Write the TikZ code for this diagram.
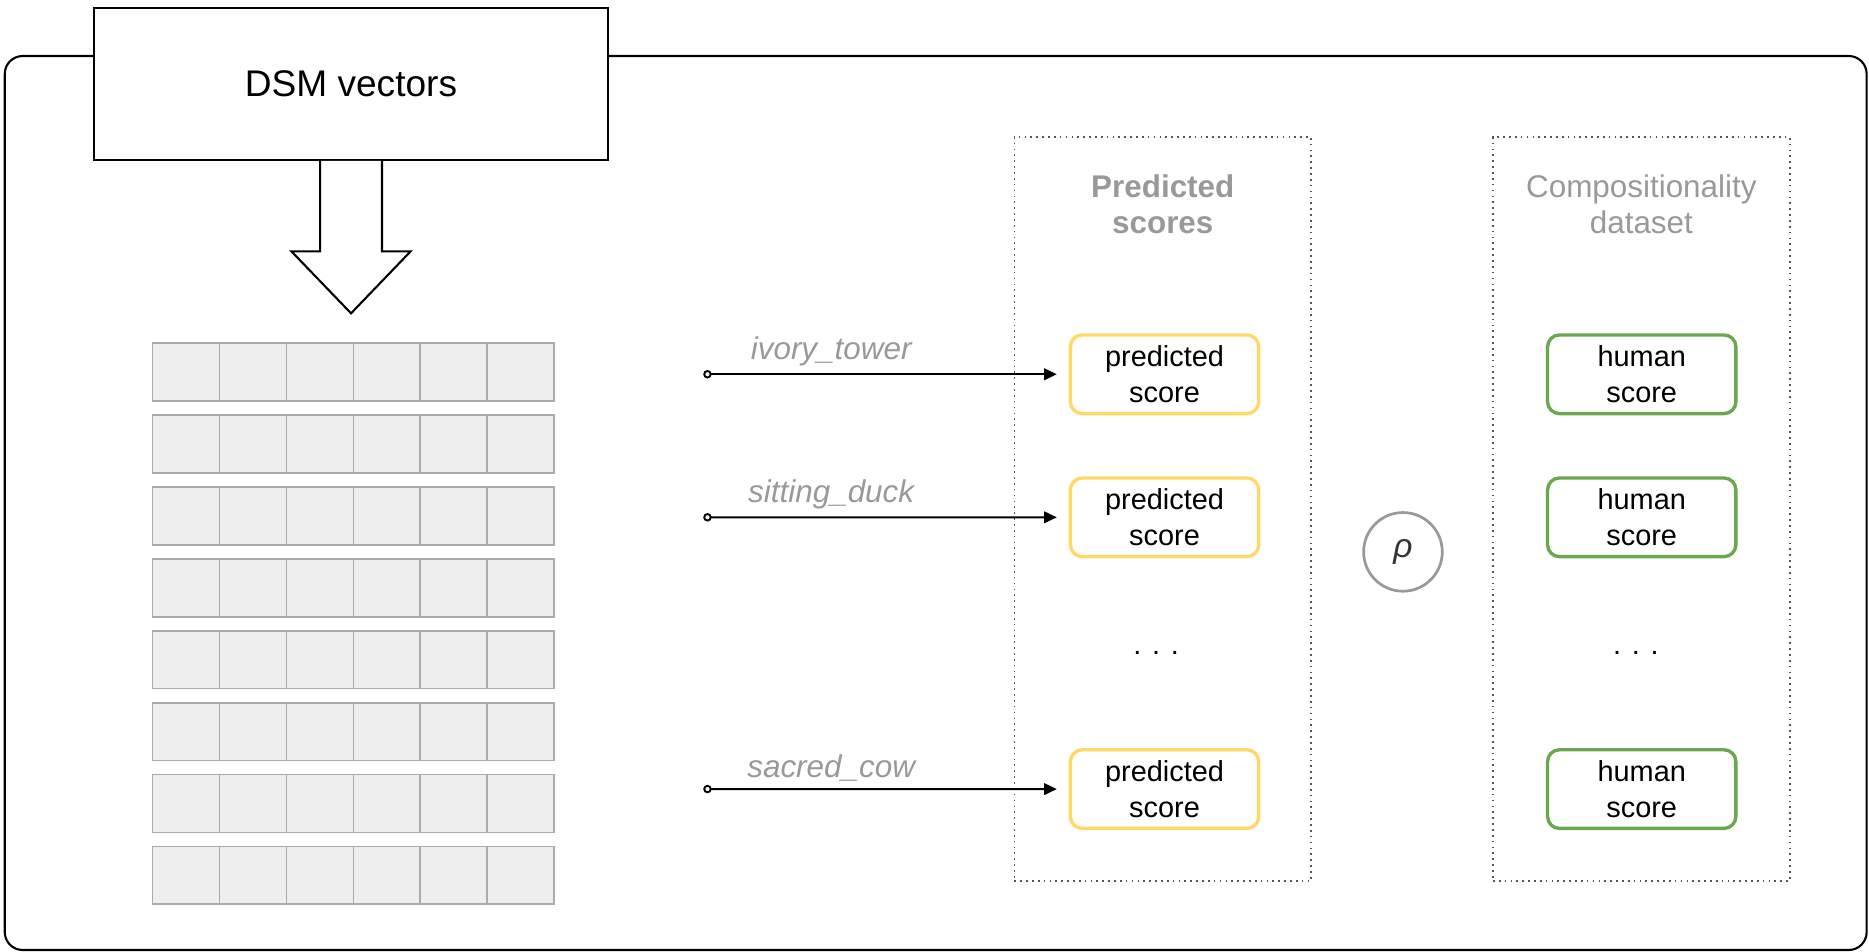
\documentclass[tikz,border=0pt]{standalone}
\usepackage{fontspec}
\setmainfont{Liberation Sans}
\usetikzlibrary{positioning,calc,arrows.meta}
\definecolor{predyellow}{HTML}{FFD966}
\definecolor{humangreen}{HTML}{6AA84F}
\definecolor{titlegray}{HTML}{999999}
\definecolor{cellgray}{HTML}{EEEEEE}
\definecolor{gridgray}{HTML}{ABABAB}
\definecolor{panelgray}{HTML}{555555}
\definecolor{rhogray}{HTML}{333333}
\newcommand{\PredText}{predicted\\score}
\newcommand{\HumanText}{human\\score}
\newcommand{\RowDots}{. . .}
\def\ScoreWidth{3.16cm}
\def\ScoreHeight{1.32cm}
\def\CellWidth{1.123}
\def\CellHeight{0.97}
\def\RowPitch{1.206}
\tikzset{
  signal/.style={{Circle[open,length=4pt,width=4pt]}-{Triangle[length=6pt,width=5.5pt]},
    line width=0.9pt, shorten >=0.2cm},
  cell/.style={fill=cellgray, draw=gridgray, line width=0.8pt},
  scorebox/.style={
    rectangle,
    rounded corners=0.2cm,
    minimum width=\ScoreWidth,
    minimum height=\ScoreHeight,
    inner ysep=1pt,
    line width=1.6pt,
    align=center,
    font=\fontsize{13.8pt}{17pt}\selectfont
  },
  predbox/.style={scorebox, draw=predyellow},
  humanbox/.style={scorebox, draw=humangreen},
  panel/.style={
    draw=panelgray,
    dotted,
    line width=0.8pt,
    minimum width=4.98cm,
    minimum height=12.48cm
  },
  paneltitle/.style={align=center, text=titlegray, font=\fontsize{15pt}{17pt}\selectfont},
  wordlabel/.style={text=titlegray, font=\fontsize{15pt}{18pt}\selectfont\itshape}
}
\begin{document}
\begin{tikzpicture}
  \useasboundingbox (0,0) rectangle (31.36,15.96);

  % outer frame, cut by the DSM box on top
  \draw[line width=1pt, rounded corners=0.3cm] (0.08,0.02) rectangle (31.32,15.02);

  \node[draw, fill=white, line width=1pt, minimum width=8.62cm, minimum height=2.54cm,
    font=\fontsize{17.7pt}{21pt}\selectfont] (dsm) at (5.89,14.55) {DSM vectors};

  % hollow arrow below the DSM box
  \draw[line width=1pt, fill=white]
    ([xshift=-0.52cm]dsm.south) -- ++(0,-1.52) -- ++(-0.48,0) -- ++(1.0,-1.04)
    -- ++(1.0,1.04) -- ++(-0.48,0) -- ([xshift=0.52cm]dsm.south);

  % vector matrix
  \foreach \r in {0,...,7}
    \foreach \c in {0,...,5}
      \draw[cell] (2.56+\c*\CellWidth,10.2-\r*\RowPitch) rectangle ++(\CellWidth,-\CellHeight);

  % panels
  \node[panel] (predpanel) at (19.51,7.42) {};
  \node[panel] (humanpanel) at (27.54,7.42) {};
  \node[paneltitle, font=\fontsize{15pt}{17pt}\selectfont\bfseries]
    (predtitle) at ([yshift=-1.14cm]predpanel.north) {Predicted\\scores};
  \node[paneltitle] (humantitle) at ([yshift=-1.14cm]humanpanel.north) {Compositionality\\dataset};

  \node[predbox] (p1) at (19.54,9.68) {\PredText};
  \node[predbox] (p2) at ([yshift=-2.4cm]p1.center) {\PredText};
  \node[predbox] (p3) at ([yshift=-4.56cm]p2.center) {\PredText};

  \node[humanbox, right=4.79cm of p1] (h1) {\HumanText};
  \node[humanbox, right=4.79cm of p2] (h2) {\HumanText};
  \node[humanbox, right=4.79cm of p3] (h3) {\HumanText};

  \node[font=\fontsize{13.8pt}{17pt}\selectfont] (pdots) at (19.4,5.0) {\RowDots};
  \node[font=\fontsize{13.8pt}{17pt}\selectfont] (hdots) at (27.45,5.0) {\RowDots};

  \node[circle, draw=titlegray, line width=1.3pt, minimum size=1.32cm, text=rhogray,
    font=\fontsize{16pt}{19pt}\selectfont\itshape] (rho) at (23.54,6.7) {ρ};

  \coordinate (w1) at (11.8,9.68);
  \coordinate (w2) at (11.8,7.28);
  \coordinate (w3) at (11.8,2.72);

  \draw[signal] (w1) -- node[wordlabel, above, pos=0.35] (l1) {ivory\_tower} (p1);
  \draw[signal] (w2) -- node[wordlabel, above, pos=0.35] (l2) {sitting\_duck} (p2);
  \draw[signal] (w3) -- node[wordlabel, above, pos=0.35] (l3) {sacred\_cow} (p3);
\end{tikzpicture}
\end{document}
